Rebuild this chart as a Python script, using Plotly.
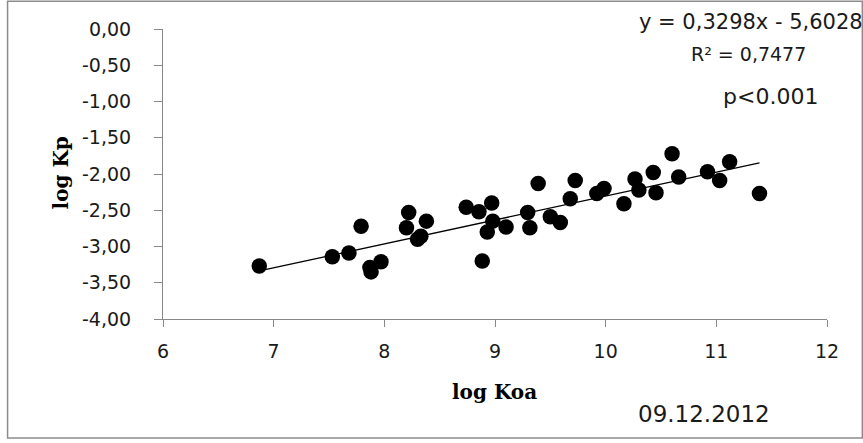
import plotly.graph_objects as go

log_koa = [6.87, 7.53, 7.68, 7.79, 7.87, 7.88, 7.97, 8.22, 8.20, 8.38, 8.30, 8.33,
           8.74, 8.855, 8.97, 8.98, 8.93, 8.885, 9.10, 9.295, 9.315, 9.39, 9.50, 9.59,
           9.68, 9.725, 9.92, 9.985, 10.165, 10.265, 10.30, 10.43, 10.455, 10.60, 10.66,
           10.92, 11.03, 11.12, 11.39]
log_kp = [-3.27, -3.14, -3.09, -2.72, -3.29, -3.35, -3.21, -2.53, -2.74, -2.65, -2.90, -2.86,
          -2.46, -2.52, -2.40, -2.65, -2.80, -3.20, -2.73, -2.53, -2.74, -2.13, -2.59, -2.67,
          -2.34, -2.09, -2.27, -2.20, -2.41, -2.07, -2.22, -1.98, -2.26, -1.72, -2.04,
          -1.97, -2.09, -1.83, -2.27]

slope = 0.3298
intercept = -5.6028
x_ticks = [6, 7, 8, 9, 10, 11, 12]
y_ticks = [0, -0.5, -1, -1.5, -2, -2.5, -3, -3.5, -4]
y_tick_labels = ["0,00", "-0,50", "-1,00", "-1,50", "-2,00", "-2,50", "-3,00", "-3,50", "-4,00"]

x_line = [min(log_koa), max(log_koa)]
y_line = [slope * v + intercept for v in x_line]

W, H = 863, 443
ml, mr, mt, mb = 163.3, 36.3, 29.3, 124
pw, ph = W - ml - mr, H - mt - mb

def px(x):
    return (x - ml) / pw

def py(y):
    return 1 - (y - mt) / ph

SANS = "DejaVu Sans"
SERIF = "DejaVu Serif"
TXT = "#1a1a1a"

fig = go.Figure()
fig.add_trace(go.Scatter(x=x_line, y=y_line, mode="lines",
                         line=dict(color="black", width=1.3), hoverinfo="skip"))
fig.add_trace(go.Scatter(x=log_koa, y=log_kp, mode="markers",
                         marker=dict(color="black", size=15.5, line=dict(width=0))))

fig.update_layout(
    width=W, height=H,
    margin=dict(l=ml, r=mr, t=mt, b=mb, autoexpand=False),
    paper_bgcolor="white", plot_bgcolor="white",
    showlegend=False,
    font=dict(family=SANS, color=TXT, size=19),
    xaxis=dict(range=[6, 12], tickvals=x_ticks, ticktext=[str(v) for v in x_ticks],
               showgrid=False, zeroline=False, showline=True, linecolor="#888",
               linewidth=1, ticks="outside", ticklen=7, tickcolor="#888",
               ticklabelstandoff=8,
               tickfont=dict(family=SANS, size=19, color=TXT)),
    yaxis=dict(range=[-4, 0], tickvals=y_ticks, ticktext=y_tick_labels,
               showgrid=False, zeroline=False, showline=True, linecolor="#888",
               linewidth=1, ticks="outside", ticklen=8, tickcolor="#888",
               ticklabelstandoff=19,
               tickfont=dict(family=SANS, size=19, color=TXT)),
    shapes=[dict(type="rect", xref="paper", yref="paper",
                 x0=px(8), x1=px(862), y0=py(438), y1=py(1.5),
                 line=dict(color="#8c8c8c", width=1.5), fillcolor="rgba(0,0,0,0)")],
    annotations=[
        dict(text="<b>log Koa</b>", xref="paper", yref="paper", x=px(495), y=py(392),
             showarrow=False, font=dict(family=SERIF, size=20, color="black"),
             xanchor="center", yanchor="middle"),
        dict(text="<b>log Kp</b>", xref="paper", yref="paper", x=px(61), y=py(173),
             showarrow=False, textangle=-90,
             font=dict(family=SERIF, size=20, color="black"),
             xanchor="center", yanchor="middle"),
        dict(text="y = 0,3298x - 5,6028", xref="paper", yref="paper", x=px(751), y=py(22),
             showarrow=False, font=dict(family=SANS, size=21, color=TXT),
             xanchor="center", yanchor="middle"),
        dict(text="R² = 0,7477", xref="paper", yref="paper", x=px(748), y=py(54),
             showarrow=False, font=dict(family=SANS, size=19, color=TXT),
             xanchor="center", yanchor="middle"),
        dict(text="p<0.001", xref="paper", yref="paper", x=px(770), y=py(97),
             showarrow=False, font=dict(family=SANS, size=22, color=TXT),
             xanchor="center", yanchor="middle"),
        dict(text="09.12.2012", xref="paper", yref="paper", x=px(704), y=py(414),
             showarrow=False, font=dict(family=SANS, size=23, color=TXT),
             xanchor="center", yanchor="middle"),
    ],
)

fig.write_html("out.html")
